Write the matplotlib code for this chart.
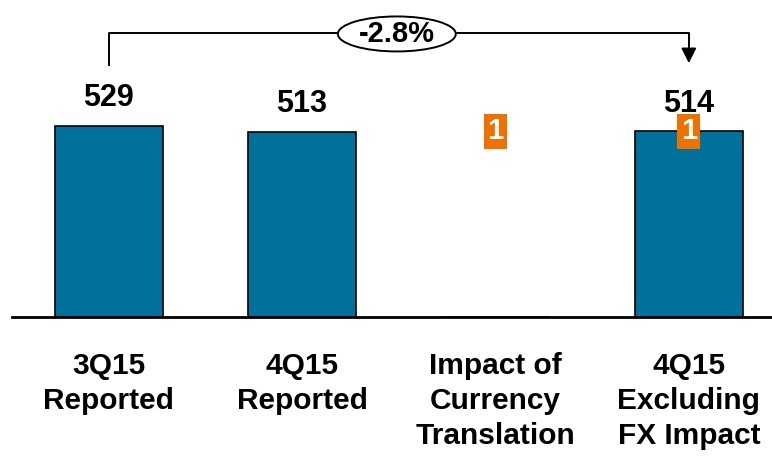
import numpy as np
import matplotlib.pyplot as plt
from matplotlib.patches import Ellipse

plt.rcParams['font.family'] = ['Liberation Sans', 'DejaVu Sans']
plt.rcParams['font.weight'] = 'bold'

categories = ['3Q15\nReported', '4Q15\nReported', 'Impact of\nCurrency\nTranslation', '4Q15\nExcluding\nFX Impact']
values = [529, 513, 0, 514]
value_labels = ['529', '513', '', '514']
footnote_cats = [2, 3]
change_label = '-2.8%'

blue = '#00719a'
orange = '#f07000'

fig = plt.figure(figsize=(7.72, 4.57), dpi=100)
ax = fig.add_axes([12 / 772, 140 / 457, 760 / 772, 317 / 457])

x = np.arange(len(categories))
ax.bar(x, values, width=0.56, color=blue, edgecolor='black', linewidth=1.2)

ax.set_xlim(-0.5, 3.43)
ax.set_ylim(0, 878)

for s in ['top', 'left', 'right']:
    ax.spines[s].set_visible(False)
ax.spines['bottom'].set_linewidth(2)
ax.set_yticks([])
ax.set_xticks([])

# value labels
for xi, v, lab in zip(x, values, value_labels):
    if lab:
        ax.annotate(lab, (xi, v), xytext=(0, 20), textcoords='offset points',
                    ha='center', va='center', fontsize=22, fontweight='bold')

# category labels
for xi, c in zip(x, categories):
    ax.annotate(c, (xi, 0), xytext=(0, -25), textcoords='offset points',
                ha='center', va='top', fontsize=21.5, fontweight='bold',
                linespacing=1.33, annotation_clip=False)

# footnote markers
for fc in footnote_cats:
    ax.text(fc, 515, '1', ha='center', va='center', fontsize=21, fontweight='bold',
            color='white',
            bbox=dict(boxstyle='square,pad=0.12', facecolor=orange, edgecolor='none'))

# bracket with change label
y_top = 787
ax.plot([0, 0, 3, 3], [698, y_top, y_top, 740], color='black', linewidth=1.4,
        clip_on=False)
ax.annotate('', xy=(3, 703), xytext=(3, 745),
            arrowprops=dict(arrowstyle='-|>,head_length=0.9,head_width=0.45',
                            color='black', lw=1.4, shrinkA=0, shrinkB=0))
ell = Ellipse((1.49, y_top - 3), width=118 / 193.5, height=35 / 0.361,
              facecolor='white', edgecolor='black', linewidth=1.4, zorder=3)
ax.add_patch(ell)
ax.text(1.49, y_top - 3, change_label, ha='center', va='center', fontsize=21,
        fontweight='bold', zorder=4)

fig.savefig('out.png', dpi=100)
